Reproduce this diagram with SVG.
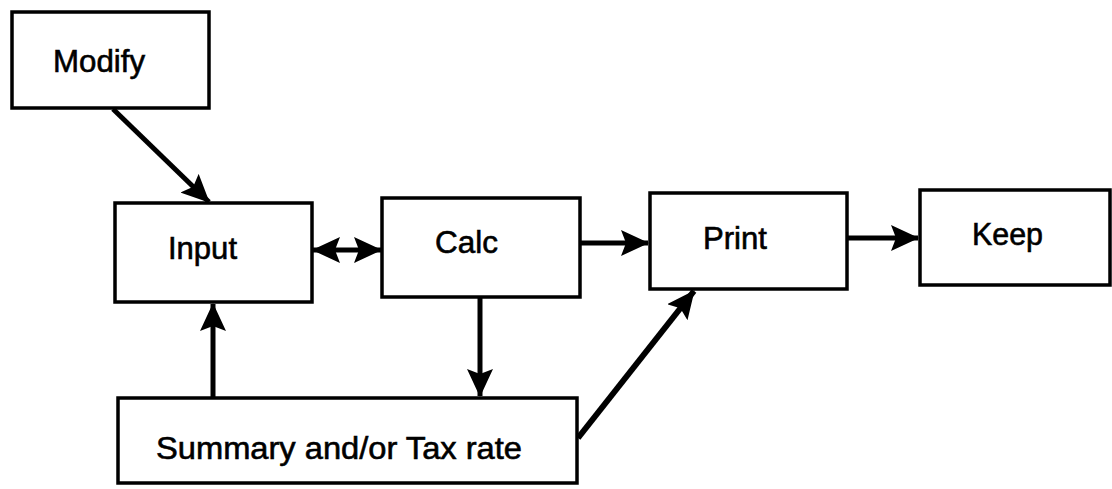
<svg xmlns="http://www.w3.org/2000/svg" width="1112" height="489" viewBox="0 0 1112 489">
<style>
.box{fill:#fff;stroke:#000;stroke-width:3.5}
.lbl{font-family:"Liberation Sans",Arial,Helvetica,sans-serif;font-size:31px;fill:#000;stroke:#000;stroke-width:0.6}
.con{fill:none;stroke:#000;stroke-width:5}
</style>
<defs>
<marker id="ah" markerUnits="userSpaceOnUse" viewBox="0 0 28 24" markerWidth="28" markerHeight="26" refX="27" refY="12" orient="auto-start-reverse" preserveAspectRatio="none">
<path d="M28,12 L0,0 L5,12 L0,24 Z" fill="#000"/>
</marker>
</defs>
<rect width="1112" height="489" fill="#fff"/>
<g id="connectors">
<line class="con" x1="113" y1="109" x2="209" y2="202" marker-end="url(#ah)"/>
<line class="con" x1="313" y1="250" x2="381" y2="250" marker-start="url(#ah)" marker-end="url(#ah)"/>
<line class="con" x1="581" y1="243" x2="648" y2="243" marker-end="url(#ah)"/>
<line class="con" x1="848" y1="238" x2="918" y2="238" marker-end="url(#ah)"/>
<line class="con" x1="213" y1="397" x2="213" y2="304" marker-end="url(#ah)"/>
<line class="con" x1="480" y1="298" x2="480" y2="396" marker-end="url(#ah)"/>
<line class="con" style="stroke-width:6" x1="578" y1="438" x2="694" y2="291" marker-end="url(#ah)"/>
</g>
<g id="modify">
<rect class="box" x="12" y="12" width="197" height="96"/>
<text class="lbl" x="53" y="72" textLength="92" lengthAdjust="spacingAndGlyphs">Modify</text>
</g>
<g id="input">
<rect class="box" x="115" y="203" width="197" height="99"/>
<text class="lbl" x="168" y="259" textLength="69" lengthAdjust="spacingAndGlyphs">Input</text>
</g>
<g id="calc">
<rect class="box" x="382" y="198" width="198" height="99"/>
<text class="lbl" x="435" y="253" textLength="63" lengthAdjust="spacingAndGlyphs">Calc</text>
</g>
<g id="print">
<rect class="box" x="650" y="193" width="197" height="96"/>
<text class="lbl" x="703" y="249" textLength="64" lengthAdjust="spacingAndGlyphs">Print</text>
</g>
<g id="keep">
<rect class="box" x="920" y="190" width="190" height="95"/>
<text class="lbl" x="972" y="245" textLength="71" lengthAdjust="spacingAndGlyphs">Keep</text>
</g>
<g id="summary">
<rect class="box" x="118" y="398" width="459" height="85"/>
<text class="lbl" x="156" y="459" textLength="366" lengthAdjust="spacingAndGlyphs">Summary and/or Tax rate</text>
</g>
</svg>
